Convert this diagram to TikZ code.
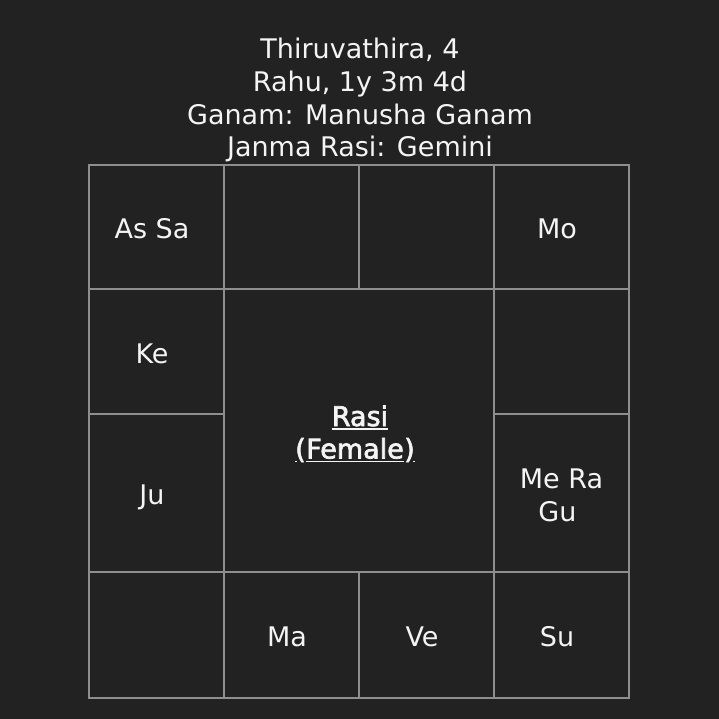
\documentclass[tikz,border=0pt]{standalone}
\usepackage{fontspec}
\setmainfont{DejaVu Sans}
\newfontfamily\semibold[FakeBold=2.5]{DejaVu Sans}
\definecolor{bg}{HTML}{222222}
\definecolor{gridc}{HTML}{8E8E8E}
\definecolor{txt}{HTML}{F4F4F4}
\begin{document}
\begin{tikzpicture}[x=1pt,y=-1pt,
  cell/.style={draw=gridc,line width=2.8pt},
  lbl/.style={text=txt,inner sep=0pt,anchor=base,font=\fontsize{27}{33}\selectfont},
  uline/.style={draw=txt,line width=1.8pt}]
\fill[bg] (0,0) rectangle (719,719);
\useasboundingbox (0,0) rectangle (719,719);
% cells
\draw[cell] (89,165) rectangle (224,289);
\draw[cell] (224,165) rectangle (359,289);
\draw[cell] (359,165) rectangle (494,289);
\draw[cell] (494,165) rectangle (629,289);
\draw[cell] (89,289) rectangle (224,414);
\draw[cell] (89,414) rectangle (224,572);
\draw[cell] (89,572) rectangle (224,698);
\draw[cell] (494,289) rectangle (629,414);
\draw[cell] (494,414) rectangle (629,572);
\draw[cell] (494,572) rectangle (629,698);
\draw[cell] (224,572) rectangle (359,698);
\draw[cell] (359,572) rectangle (494,698);
\draw[cell] (224,289) rectangle (494,572);
% title
\node[lbl] (t1) at (360,59) {Thiruvathira, 4};
\node[lbl] (t2) at (360,91.7) {Rahu, 1y 3m 4d};
\node[lbl] (t3) at (360,124.3) {Ganam: Manusha Ganam};
\node[lbl] (t4) at (360,157) {Janma Rasi: Gemini};
% cell texts
\node[lbl] (assa) at (152,238) {As Sa};
\node[lbl] (mo) at (557,238) {Mo};
\node[lbl] (ke) at (152,363) {Ke};
\node[lbl] (ju) at (152,504) {Ju};
\node[lbl] (mera) at (561.5,488.5) {Me Ra};
\node[lbl] (gu) at (557.5,521) {Gu};
\node[lbl] (ma) at (287,646) {Ma};
\node[lbl] (ve) at (422,646) {Ve};
\node[lbl] (su) at (557,646) {Su};
% centre
\node[lbl,font=\fontsize{27}{33}\semibold] (rasi) at (360,426) {Rasi};
\node[lbl,font=\fontsize{27}{33}\semibold] (fem) at (355,458.5) {Female};
\node[lbl,font=\fontsize{27}{33}\semibold,anchor=base east] (lp) at (fem.base west) {(};
\node[lbl,font=\fontsize{27}{33}\semibold,anchor=base west] (rp) at (fem.base east) {)};
\draw[uline] ([yshift=-3pt]rasi.base west) -- ([yshift=-3pt]rasi.base east);
\draw[uline] ([yshift=-3pt]fem.base west) -- ([yshift=-3pt]fem.base east);
\draw[uline] ([yshift=-3pt]lp.base west) -- ([xshift=1.5pt,yshift=-3pt]lp.base west);
\draw[uline] ([xshift=-1.5pt,yshift=-3pt]rp.base east) -- ([yshift=-3pt]rp.base east);
\end{tikzpicture}
\end{document}
